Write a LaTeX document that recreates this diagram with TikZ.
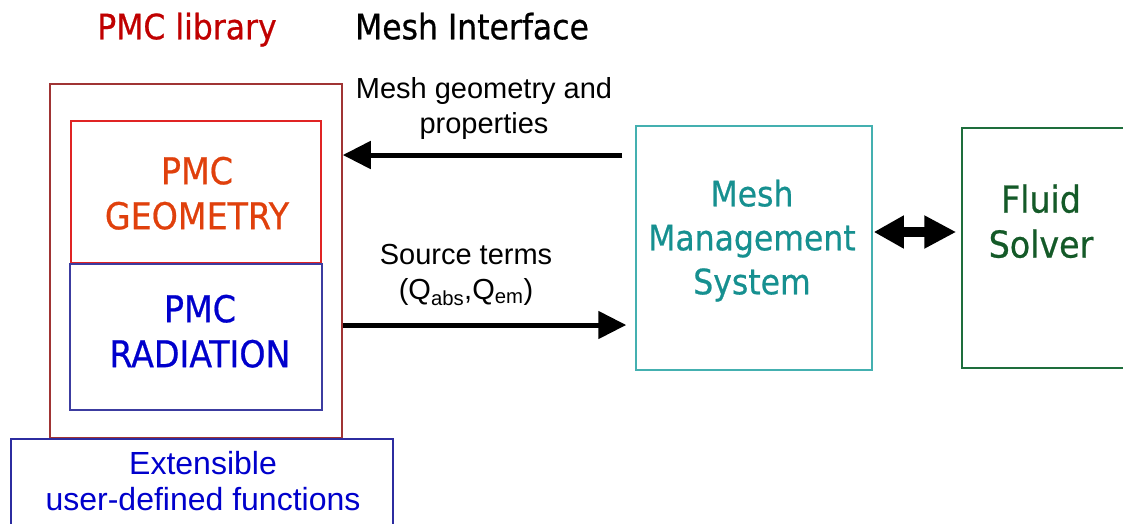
\documentclass[tikz,border=0pt]{standalone}
\usepackage{fontspec}
\setmainfont{Liberation Sans}
\newfontfamily\tahoma[FakeBold=0.6]{DejaVu Sans Condensed}
\usetikzlibrary{arrows.meta,calc}

\definecolor{pmcred}{HTML}{C00000}
\definecolor{outerc}{HTML}{A03434}
\definecolor{geomc}{HTML}{E02424}
\definecolor{geomtext}{HTML}{E0400C}
\definecolor{radc}{HTML}{3C3CA0}
\definecolor{radtext}{HTML}{0000CC}
\definecolor{extc}{HTML}{2C2CA0}
\definecolor{mmsc}{HTML}{44B0B0}
\definecolor{mmstext}{HTML}{169090}
\definecolor{fluidc}{HTML}{1E6E3C}
\definecolor{fluidtext}{HTML}{145A28}

\tikzset{
  box/.style={draw, line width=1.5pt, inner sep=0pt, fill=none},
  lbl/.style={inner sep=0pt, align=center, text depth=0pt},
  bigfont/.style={font=\tahoma\fontsize{37}{45}\selectfont},
  midfont/.style={font=\tahoma\fontsize{35}{44}\selectfont},
  notefont/.style={font=\fontsize{29}{35}\selectfont},
  bigarrow/.style={line width=5pt, -{Triangle[length=28pt,width=27pt]}},
  dblarrow/.style={line width=10pt, {Triangle[length=30pt,width=31pt]}-{Triangle[length=32pt,width=31pt]}}
}

\begin{document}
\begin{tikzpicture}[x=1pt,y=-1pt]
  \useasboundingbox (0,0) rectangle (1123,523);
  \clip (0,0) rectangle (1123,523);
  \fill[white] (0,0) rectangle (1123,523);

  % headings
  \node[lbl, font=\tahoma\fontsize{35}{42}\selectfont, text=pmcred] (libtitle) at (187,26) {PMC library};
  \node[lbl, font=\tahoma\fontsize{35}{42}\selectfont, text=black] (ifacetitle) at (472,26) {Mesh Interface};

  % PMC library blocks
  \node[box, draw=outerc, minimum width=292pt, minimum height=354pt] (outer) at (196,261) {};
  \node[box, draw=geomc, minimum width=250pt, minimum height=142pt] (geom) at (196,192) {};
  \node[box, draw=radc, minimum width=252pt, minimum height=146pt] (rad) at (196,337) {};
  \node[box, draw=extc, minimum width=382pt, minimum height=91pt] (ext) at (202,484.5) {};

  \node[lbl, bigfont, text=geomtext] (geomlbl) at (197,193) {PMC\\GEOMETRY};
  \node[lbl, bigfont, text=radtext] (radlbl) at (200,331) {PMC\\RADIATION};
  \node[lbl, font=\fontsize{32}{36}\selectfont, text=radtext] (extlbl) at (203,481) {Extensible\\user-defined functions};

  % mesh management and solver
  \node[box, draw=mmsc, minimum width=236pt, minimum height=244pt] (mms) at (754,248) {};
  \node[box, draw=fluidc, minimum width=168pt, minimum height=240pt] (fluid) at (1046,248) {};
  \node[lbl, midfont, text=mmstext] (mmslbl) at (752,237) {Mesh\\Management\\System};
  \node[lbl, bigfont, text=fluidtext] (fluidlbl) at (1041,221) {Fluid\\Solver};

  % data flow
  \node[lbl, notefont] (geomnote) at (484,105) {Mesh geometry and\\properties};
  \node[lbl, notefont] (srcnote) at (466,272) {Source terms\\(Q\textsubscript{abs},Q\textsubscript{em})};

  \coordinate (inA) at ($(mms.west)+(-13,-93)$);
  \draw[bigarrow] (inA) -- (outer.east |- inA);
  \coordinate (outB) at ($(outer.east)+(0,64)$);
  \draw[bigarrow] (outB) -- ($(mms.west |- outB)+(-9,0)$);
  \draw[dblarrow] ($(mms.east)+(1,-16)$) -- ($(fluid.west)+(-5,-16)$);
\end{tikzpicture}
\end{document}
